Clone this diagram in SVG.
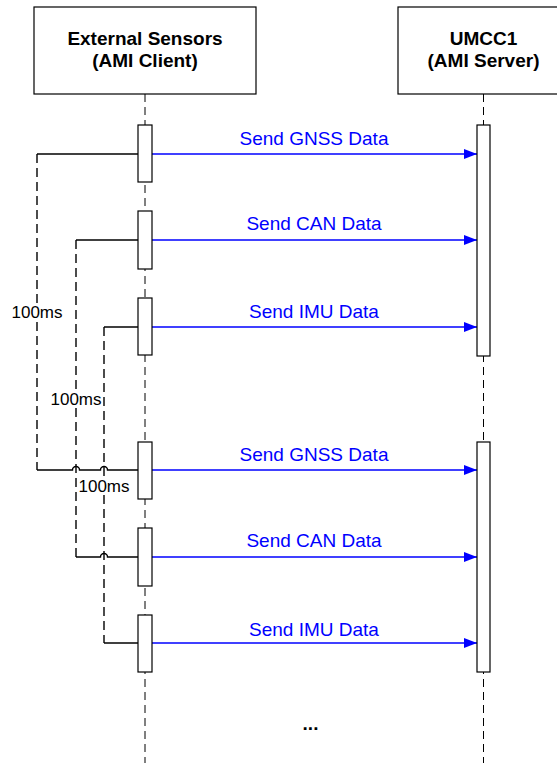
<svg xmlns="http://www.w3.org/2000/svg" width="557" height="763" viewBox="0 0 557 763">
<style>
.hdr{fill:#fff;stroke:#000;stroke-width:1.2}
.ht{font-family:"Liberation Sans",Arial,sans-serif;font-weight:bold;font-size:19px;fill:#000;text-anchor:middle}
.life{stroke:#000;stroke-width:1;stroke-dasharray:8,5;fill:none}
.act{fill:#fff;stroke:#000;stroke-width:1.2}
.msg{stroke:#0000ff;stroke-width:1.4;fill:none;marker-end:url(#arr)}
.ml{font-family:"Liberation Sans",Arial,sans-serif;font-size:19px;fill:#0000ff;text-anchor:middle}
.solid{stroke:#000;stroke-width:1.4;fill:none}
.dash{stroke:#000;stroke-width:1.4;fill:none;stroke-dasharray:9,5}
.dl{font-family:"Liberation Sans",Arial,sans-serif;font-size:17px;fill:#000;text-anchor:middle}
.bg{fill:#fff}
</style>
<defs>
<marker id="arr" viewBox="0 0 13 10" refX="13" refY="5" markerWidth="13" markerHeight="10" markerUnits="userSpaceOnUse" orient="auto">
<path d="M0,0 L13,5 L0,10 Z" fill="#0000ff"/>
</marker>
</defs>
<rect width="557" height="763" fill="#fff"/>
<g id="lifelines">
<line class="life" x1="145" y1="94" x2="145" y2="763"/>
<line class="life" x1="483.5" y1="94" x2="483.5" y2="763"/>
</g>
<g id="client">
<rect class="hdr" x="34" y="7" width="222" height="87"/>
<text class="ht" x="145" y="45">External Sensors</text>
<text class="ht" x="145" y="67">(AMI Client)</text>
</g>
<g id="server">
<rect class="hdr" x="398" y="7" width="172" height="87"/>
<text class="ht" x="483.5" y="45">UMCC1</text>
<text class="ht" x="483.5" y="67">(AMI Server)</text>
</g>
<g id="connectors">
<path class="solid" d="M138,154 H37"/>
<path class="dash" d="M37,154 V470"/>
<path class="solid" d="M37,470 H72.5 A3.5,3.5 0 0 1 79.5,470 H100.5 A3.5,3.5 0 0 1 107.5,470 H138"/>
<path class="solid" d="M138,240 H76"/>
<path class="dash" d="M76,240 V557"/>
<path class="solid" d="M76,557 H100.5 A3.5,3.5 0 0 1 107.5,557 H138"/>
<path class="solid" d="M138,327 H104"/>
<path class="dash" d="M104,327 V643"/>
<path class="solid" d="M104,643 H138"/>
<line class="msg" x1="152" y1="154" x2="477" y2="154"/>
<line class="msg" x1="152" y1="240" x2="477" y2="240"/>
<line class="msg" x1="152" y1="327" x2="477" y2="327"/>
<line class="msg" x1="152" y1="470" x2="477" y2="470"/>
<line class="msg" x1="152" y1="557" x2="477" y2="557"/>
<line class="msg" x1="152" y1="643" x2="477" y2="643"/>
</g>
<g id="activations">
<rect class="act" x="138" y="125" width="14" height="57"/>
<rect class="act" x="138" y="211" width="14" height="58"/>
<rect class="act" x="138" y="298" width="14" height="57"/>
<rect class="act" x="138" y="442" width="14" height="57"/>
<rect class="act" x="138" y="528" width="14" height="58"/>
<rect class="act" x="138" y="615" width="14" height="57"/>
<rect class="act" x="477" y="125" width="13" height="231"/>
<rect class="act" x="477" y="442" width="13" height="230"/>
</g>
<g id="message-labels">
<text class="ml" x="314" y="145">Send GNSS Data</text>
<text class="ml" x="314" y="230">Send CAN Data</text>
<text class="ml" x="314" y="318">Send IMU Data</text>
<text class="ml" x="314" y="461">Send GNSS Data</text>
<text class="ml" x="314" y="547">Send CAN Data</text>
<text class="ml" x="314" y="636">Send IMU Data</text>
</g>
<g id="delay-labels">
<rect class="bg" x="11" y="303" width="52" height="18"/>
<text class="dl" x="37" y="318">100ms</text>
<rect class="bg" x="50" y="390" width="52" height="18"/>
<text class="dl" x="76" y="405">100ms</text>
<rect class="bg" x="78" y="477" width="52" height="18"/>
<text class="dl" x="104" y="492">100ms</text>
</g>
<g id="ellipsis">
<text class="ht" x="310.5" y="730">...</text>
</g>
</svg>
